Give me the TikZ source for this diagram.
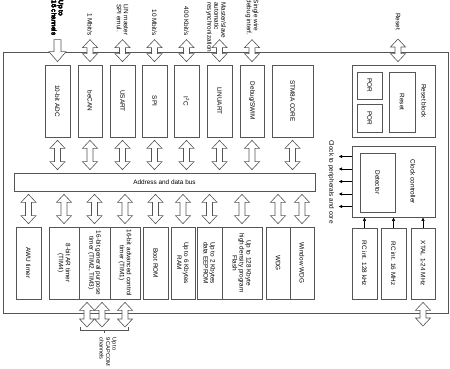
\documentclass[tikz,border=0pt]{standalone}
\usepackage{fontspec}
\setmainfont{Liberation Sans}
\usepackage{tikz}
\usetikzlibrary{arrows.meta, calc}
\definecolor{cLine}{RGB}{85,85,85}
% hollow bus arrows: x from the first point, y from both
\newcommand{\dblarrow}[2]{%
	\draw[fatarrow] let \p1=#1, \p2=#2 in
		(\x1,\y1-3pt) -- (\x1+7.5pt,\y1-11pt) -- (\x1+3pt,\y1-11pt) -- (\x1+3pt,\y2+11pt)
		-- (\x1+7.5pt,\y2+11pt) -- (\x1,\y2+3pt) -- (\x1-7.5pt,\y2+11pt) -- (\x1-3pt,\y2+11pt)
		-- (\x1-3pt,\y1-11pt) -- (\x1-7.5pt,\y1-11pt) -- cycle;}
\newcommand{\inarrow}[2]{%
	\draw[fatarrow] let \p1=#1, \p2=#2 in
		(\x1-3.5pt,\y1-3pt) -- (\x1+3.5pt,\y1-3pt) -- (\x1+3.5pt,\y2+13pt) -- (\x1+8.5pt,\y2+13pt)
		-- (\x1,\y2+3pt) -- (\x1-8.5pt,\y2+13pt) -- (\x1-3.5pt,\y2+13pt) -- cycle;}
\tikzset{
	% rotated boxes: width runs down the page
	blk/.style={rectangle, rotate=-90, draw=cLine, line width=0.7pt, minimum width=72pt, minimum height=25pt, inner sep=1pt, align=center, font=\fontsize{6.4}{7}\selectfont},
	area/.style={rectangle, draw=cLine, line width=0.7pt, inner sep=0pt},
	note/.style={rotate=-90, inner sep=1pt, align=left, font=\fontsize{6.4}{7}\selectfont},
	fatarrow/.style={draw=cLine, line width=0.6pt, fill=white, line join=miter},
	clkarrow/.style={-{Latex[length=3.5pt, width=3.5pt]}, line width=0.6pt},
	frame/.style={draw=cLine, line width=0.8pt},
}
\begin{document}
\begin{tikzpicture}[x=1pt, y=-1pt]
	\useasboundingbox (0,0) rectangle (450,369);
	\draw[frame] (3,52) rectangle (448,313);

	\node[area, minimum width=301pt, minimum height=18pt, font=\fontsize{6.4}{7}\selectfont] (bus) at (164.5,182) {Address and data bus};

	% top row
	\foreach \name/\txt/\x/\w in {adc/10-bit ADC/57.5/25, can/beCAN/90/24, usart/USART/122.5/25, spi/SPI/154.5/25, iic/I\textsuperscript{2}C/186.5/25, lin/LINUART/219.5/25, swim/{Debug/SWIM}/252/24, core/STM8A CORE/292.5/41} {
		\node[blk, minimum height=\w pt] (\name) at (\x,101) {\txt};
		\dblarrow{(\name.east)}{(bus.north -| \name)}
	}
	\foreach \name in {adc, can, usart, spi, iic, lin, swim}
		\path (\name.west) ++(0,-28) coordinate (\name-in);
	\inarrow{(adc-in)}{(adc.west)}
	\foreach \name in {can, usart, spi, iic, lin, swim}
		\dblarrow{(\name-in)}{(\name.west)}
	\node[note, anchor=east] at (adc-in) {Up to\\16 channels};
	\node[note, anchor=east] at (can-in) {1 Mbit/s};
	\node[note, anchor=east] at (usart-in) {LIN master\\SPI emul.};
	\node[note, anchor=east] at (spi-in) {10 Mbit/s};
	\node[note, anchor=east] at (iic-in) {400 Kbit/s};
	\node[note, anchor=west] at (216,1) {Master/slave\\automatic\\resynchronization};
	\node[note, anchor=east] at (swim-in) {Single wire\\debug interf.};

	% bottom row
	\foreach \name/\txt/\x/\w in {awu/AWU timer/28.5/25, ar/{8-bit AR timer\\(TIM4)}/64/30, gp/{16-bit general purpose\\timer (TIM2, TIM3)}/94.5/31, adv/{16-bit advanced control\\timer (TIM1)}/125/30, brom/Boot ROM/155.5/25, ram/{Up to 6 Kbytes\\RAM}/183/24, eep/{Up to 2 Kbytes\\data EEPROM}/209.5/25, flash/{Up to 128 Kbyte\\high density program\\Flash}/242/40, wdg/WDG/278/24, wwdg/Window WDG/302/24} {
		\node[blk, minimum height=\w pt] (\name) at (\x,263) {\txt};
		\dblarrow{(bus.south -| \name)}{(\name.west)}
	}
	\coordinate (capbar) at (104,330);
	\dblarrow{([xshift=-7.5pt]gp.east)}{(capbar)}
	\dblarrow{([xshift=7.5pt]gp.east)}{(capbar)}
	\dblarrow{(adv.east)}{(capbar)}
	\draw[frame, line width=0.6pt] (80,327) |- (128,330) -- (128,327);
	\draw[frame, line width=0.6pt] (capbar) -- ++(0,3);
	\node[note, anchor=west, font=\fontsize{5.6}{6.6}\selectfont] at (108,336) {Up to\\9 CAPCOM\\channels};

	% reset block
	\node[area, minimum width=83pt, minimum height=72pt] (rstblk) at (393.5,101) {};
	\node[blk, minimum width=27pt] (por1) at (369.5,85.5) {POR};
	\node[blk, minimum width=28pt] (por2) at (369.5,118) {POR};
	\node[blk, minimum width=60pt, minimum height=26pt] (rst) at (402,102) {Reset};
	\node[note] (rstlbl) at (424,101) {Reset block};
	\coordinate (rst-in) at (398,36);
	\dblarrow{(rst-in)}{(rstblk.north -| rst-in)}
	\node[note, anchor=east] at (398,31) {Reset};

	% clock controller
	\node[area, minimum width=83pt, minimum height=71pt] (clk) at (393.5,181.5) {};
	\node[blk, minimum width=59pt, minimum height=35pt] (det) at (377.5,182.5) {Detector};
	\node[note] (clklbl) at (413,182) {Clock controller};
	\foreach \k in {-2,...,2}
		\draw[clkarrow] ([yshift=\k*12.5pt]clk.west) -- ++(-13,0);
	\node[note] (clkout) at (331,182) {Clock to peripherals and core};
	\foreach \name/\txt/\x/\w in {rc128/RC int. 128 kHz/364.5/25, rc16/RC int. 16 MHz/393.5/25, xtal/XTAL 1-24 MHz/423/24} {
		\node[blk, minimum width=71pt, minimum height=\w pt] (\name) at (\x,263.5) {\txt};
		\draw[clkarrow] (\name.west) -- (\name.west |- clk.south);
	}
	\coordinate (xtal-out) at (423,329);
	\dblarrow{(xtal.east)}{(xtal-out)}
\end{tikzpicture}
\end{document}
